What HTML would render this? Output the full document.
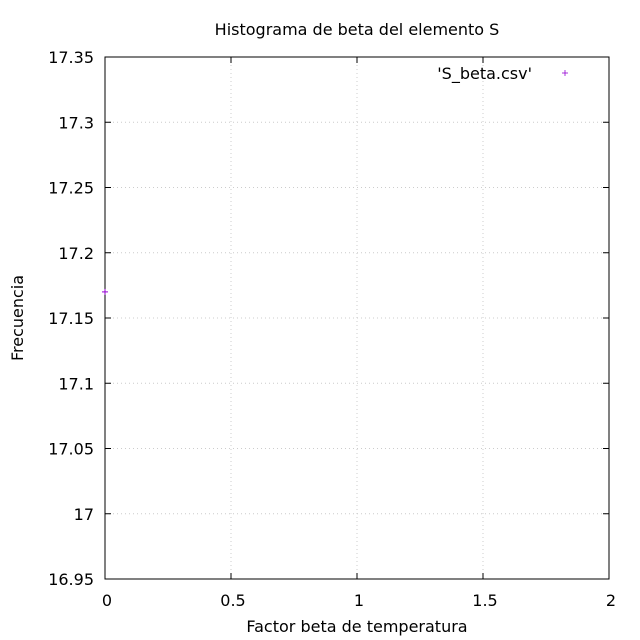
<!DOCTYPE html>
<html><head><meta charset="utf-8"><style>
body{margin:0;background:#fff}
svg{display:block;font-family:"DejaVu Sans","Liberation Sans",sans-serif}
</style></head><body>
<svg id="c" width="640" height="640"></svg>
<script>
const xTicks=[0,0.5,1,1.5,2];
const yTicks=[16.95,17,17.05,17.1,17.15,17.2,17.25,17.3,17.35];
const xTickLabels=["0","0.5","1","1.5","2"];
const yTickLabels=["16.95","17","17.05","17.1","17.15","17.2","17.25","17.3","17.35"];
const seriesX=[0];
const seriesY=[17.17];
const L=105,R=609,T=57,B=579;
const sx=v=>L+(v-0)/(2-0)*(R-L);
const sy=v=>B-(v-16.95)/(17.35-16.95)*(B-T);
const svg=document.getElementById('c');
const NS='http://www.w3.org/2000/svg';
function mk(tag,attrs,parent){const e=document.createElementNS(NS,tag);for(const k in attrs)e.setAttribute(k,attrs[k]);(parent||svg).appendChild(e);return e;}
function txt(x,y,s,anchor,size){const e=mk('text',{x:x,y:y,'text-anchor':anchor,'font-size':size,fill:'#000'});e.textContent=s;return e;}
xTicks.forEach((v,i)=>{
  const x=sx(v);
  if(i>0&&i<xTicks.length-1){const g=mk('line',{x1:x,x2:x,y1:T,y2:B,stroke:'#ccc','stroke-dasharray':'1,3'});
  
  }
  mk('line',{x1:x,x2:x,y1:B,y2:B-6,stroke:'#000'});
  mk('line',{x1:x,x2:x,y1:T,y2:T+6,stroke:'#000'});
  const t=txt(x+2,606,xTickLabels[i],'middle',16);
  
  
});
yTicks.forEach((v,i)=>{
  const y=sy(v);
  if(i>0&&i<yTicks.length-1){const g=mk('line',{x1:L,x2:R,y1:y,y2:y,stroke:'#ccc','stroke-dasharray':'1,3'});
  
  }
  mk('line',{x1:L,x2:L+6,y1:y,y2:y,stroke:'#000'});
  mk('line',{x1:R,x2:R-6,y1:y,y2:y,stroke:'#000'});
  const t=txt(94,y+6,yTickLabels[i],'end',16);
  
  
});
const frame=mk('rect',{x:L,y:T,width:R-L,height:B-T,fill:'none',stroke:'#000'});


seriesX.forEach((v,i)=>{
  const x=sx(v),y=sy(seriesY[i]);
  const g=mk('g',{stroke:'#9400d3'});
  
  
  mk('line',{x1:x-3,x2:x+3,y1:y,y2:y},g);
  mk('line',{x1:x,x2:x,y1:y-3,y2:y+3},g);
});
const title=txt(357,35,'Histograma de beta del elemento S','middle',16);


const xl=txt(357,632,'Factor beta de temperatura','middle',16);


const yl=txt(0,0,'Frecuencia','middle',16);
yl.setAttribute('transform','translate(23,318) rotate(-90)');


const lg=txt(532,79,"'S_beta.csv'",'end',16);


const lm=mk('g',{stroke:'#9400d3','stroke-width':0.8});


mk('line',{x1:562,x2:568,y1:73,y2:73},lm);
mk('line',{x1:565,x2:565,y1:70,y2:76},lm);
</script>
</body></html>
